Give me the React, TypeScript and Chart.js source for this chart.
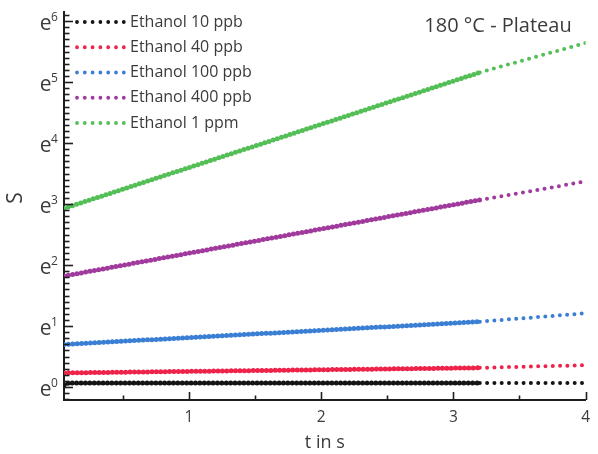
import { useEffect, useRef } from 'react';
import { Chart, registerables } from 'chart.js';

Chart.register(...registerables);

// Series names and colours
const seriesNames = ['Ethanol 10 ppb', 'Ethanol 40 ppb', 'Ethanol 100 ppb', 'Ethanol 400 ppb', 'Ethanol 1 ppm'];
const seriesColors = ['#141414', '#ee2349', '#3a7fd3', '#a13a9d', '#54bf57'];

// Measured response S versus time t (s), as [t, S]
const measured10ppb: [number, number][] = [[0.055, 1.03], [0.09, 1.07], [3.2, 1.07]];
const measured40ppb: [number, number][] = [[0.055, 1.26], [3.2, 1.37]];
const measured100ppb: [number, number][] = [[0.055, 2.01], [3.2, 2.92]];
const measured400ppb: [number, number][] = [[0.055, 6.17], [3.2, 21.5]];
const measured1ppm: [number, number][] = [[0.055, 18.7], [3.2, 174]];

// Extrapolated continuation of each response, as [t, S]
const fit10ppb: [number, number][] = [[3.2, 1.07], [4, 1.07]];
const fit40ppb: [number, number][] = [[3.2, 1.37], [4, 1.43]];
const fit100ppb: [number, number][] = [[3.2, 2.92], [4, 3.35]];
const fit400ppb: [number, number][] = [[3.2, 21.5], [4, 29.1]];
const fit1ppm: [number, number][] = [[3.2, 174], [4, 282]];

const measuredSeries = [measured10ppb, measured40ppb, measured100ppb, measured400ppb, measured1ppm];
const fitSeries = [fit10ppb, fit40ppb, fit100ppb, fit400ppb, fit1ppm];

// Axes
const xMin = 0.055;
const xMax = 4;
const xMajorTicks = [1, 2, 3, 4];
const xMinorStep = 0.5;
const yExponents = [0, 1, 2, 3, 4, 5, 6];
const yLnMin = -0.213;
const yLnMax = 6.15;
const yMinorStep = 0.1;

const chartTitle = '180 °C - Plateau';
const xTitle = 't in s';
const yTitle = 'S';

const FONT = '"Open Sans", "DejaVu Sans", sans-serif';
const TEXT = '#3b3b3b';
const AXIS = '#1e1e1e';

const decorPlugin = {
  id: 'decor',
  afterDraw(chart: any) {
    const ctx: CanvasRenderingContext2D = chart.ctx;
    const xs = chart.scales.x;
    const ys = chart.scales.y;
    const { left, top, bottom } = chart.chartArea;
    ctx.save();
    ctx.setLineDash([]);
    ctx.lineCap = 'butt';
    ctx.strokeStyle = AXIS;
    ctx.lineWidth = 1.6;

    // inward tick marks on the y axis (every 0.1 in ln S, longer at e^n)
    const perUnit = Math.round(1 / yMinorStep);
    const kMin = Math.ceil(yLnMin / yMinorStep);
    const kMax = Math.floor(yLnMax / yMinorStep);
    for (let k = kMin; k <= kMax; k++) {
      const major = k % perUnit === 0;
      const py = Math.round(ys.getPixelForValue(Math.exp(k * yMinorStep))) + 0.5;
      ctx.beginPath();
      ctx.moveTo(left, py);
      ctx.lineTo(left + (major ? 9 : 5.5), py);
      ctx.stroke();
    }
    // inward tick marks on the x axis
    for (let v = xMinorStep; v <= xMax + 1e-9; v += xMinorStep) {
      const major = Math.abs(v - Math.round(v)) < 1e-9;
      const px = Math.round(xs.getPixelForValue(v)) + 0.5;
      ctx.beginPath();
      ctx.moveTo(px, bottom);
      ctx.lineTo(px, bottom - (major ? 8 : 4.5));
      ctx.stroke();
    }

    // y tick labels e^n
    ctx.fillStyle = TEXT;
    for (const n of yExponents) {
      const py = ys.getPixelForValue(Math.exp(n));
      ctx.font = `21px ${FONT}`;
      ctx.textAlign = 'right';
      ctx.textBaseline = 'alphabetic';
      ctx.fillText('e', 51.5, py + 8.5);
      ctx.font = `12px ${FONT}`;
      ctx.textAlign = 'left';
      ctx.fillText(String(n), 51, py);
    }

    // y axis title
    ctx.save();
    ctx.translate(16, 198);
    ctx.rotate(-Math.PI / 2);
    ctx.font = `21px ${FONT}`;
    ctx.textAlign = 'center';
    ctx.textBaseline = 'middle';
    ctx.fillText(yTitle, 0, 0);
    ctx.restore();

    // title
    ctx.font = `20px ${FONT}`;
    ctx.textAlign = 'center';
    ctx.textBaseline = 'middle';
    ctx.fillText(chartTitle, 498, top + 14);

    // legend
    seriesNames.forEach((name, i) => {
      const y = 22 + i * 25.25;
      ctx.strokeStyle = seriesColors[i];
      ctx.lineWidth = 3.8;
      ctx.lineCap = 'round';
      ctx.setLineDash([0, 7.8]);
      ctx.beginPath();
      ctx.moveTo(77, y);
      ctx.lineTo(125, y);
      ctx.stroke();
      ctx.setLineDash([]);
      ctx.fillStyle = TEXT;
      ctx.font = `16px ${FONT}`;
      ctx.textAlign = 'left';
      ctx.textBaseline = 'middle';
      ctx.fillText(name, 130, y);
    });
    ctx.restore();
  },
};

export default function App() {
  const canvasRef = useRef<HTMLCanvasElement | null>(null);

  useEffect(() => {
    if (!canvasRef.current) return;
    const datasets: any[] = [];
    seriesNames.forEach((name, i) => {
      datasets.push({
        label: name,
        data: measuredSeries[i].map(([t, s]) => ({ x: t, y: s })),
        borderColor: seriesColors[i],
        borderWidth: 5,
        borderDash: [0, 4.4],
        borderCapStyle: 'round',
        pointRadius: 0,
        fill: false,
        tension: 0,
      });
      datasets.push({
        label: name + ' (extrapolated)',
        data: fitSeries[i].map(([t, s]) => ({ x: t, y: s })),
        borderColor: seriesColors[i],
        borderWidth: 4,
        borderDash: [0, 7.3],
        borderCapStyle: 'round',
        pointRadius: 0,
        fill: false,
        tension: 0,
      });
    });

    const chart = new Chart(canvasRef.current, {
      type: 'line',
      data: { datasets },
      options: {
        animation: false,
        responsive: false,
        layout: { padding: { left: 0, right: 3, top: 12, bottom: 0 } },
        plugins: {
          legend: { display: false },
          title: { display: false },
          tooltip: { enabled: false },
        },
        scales: {
          x: {
            type: 'linear',
            min: xMin,
            max: xMax,
            bounds: 'data',
            afterBuildTicks: (s: any) => {
              s.ticks = xMajorTicks.map((v) => ({ value: v }));
            },
            afterFit: (s: any) => {
              s.height = 54;
            },
            grid: { display: false, drawTicks: false },
            border: { display: true, color: AXIS, width: 2 },
            ticks: {
              font: { family: FONT, size: 15.5 },
              color: TEXT,
              padding: 8,
              maxRotation: 0,
              autoSkip: false,
            },
            title: {
              display: true,
              text: xTitle,
              font: { family: FONT, size: 18 },
              color: TEXT,
              padding: { top: 0, bottom: 0 },
            },
          },
          y: {
            type: 'logarithmic',
            min: Math.exp(yLnMin),
            max: Math.exp(yLnMax),
            bounds: 'data',
            afterBuildTicks: (s: any) => {
              s.ticks = yExponents.map((n) => ({ value: Math.exp(n) }));
            },
            afterFit: (s: any) => {
              s.width = 64;
            },
            grid: { display: false, drawTicks: false },
            border: { display: true, color: AXIS, width: 2 },
            ticks: { display: false },
          },
        },
      } as any,
      plugins: [decorPlugin],
    });
    return () => chart.destroy();
  }, []);

  return (
    <div style={{ position: 'absolute', left: 0, top: 0, width: 598, height: 454, background: '#fff' }}>
      <canvas ref={canvasRef} width={598} height={454} style={{ display: 'block' }} />
    </div>
  );
}
